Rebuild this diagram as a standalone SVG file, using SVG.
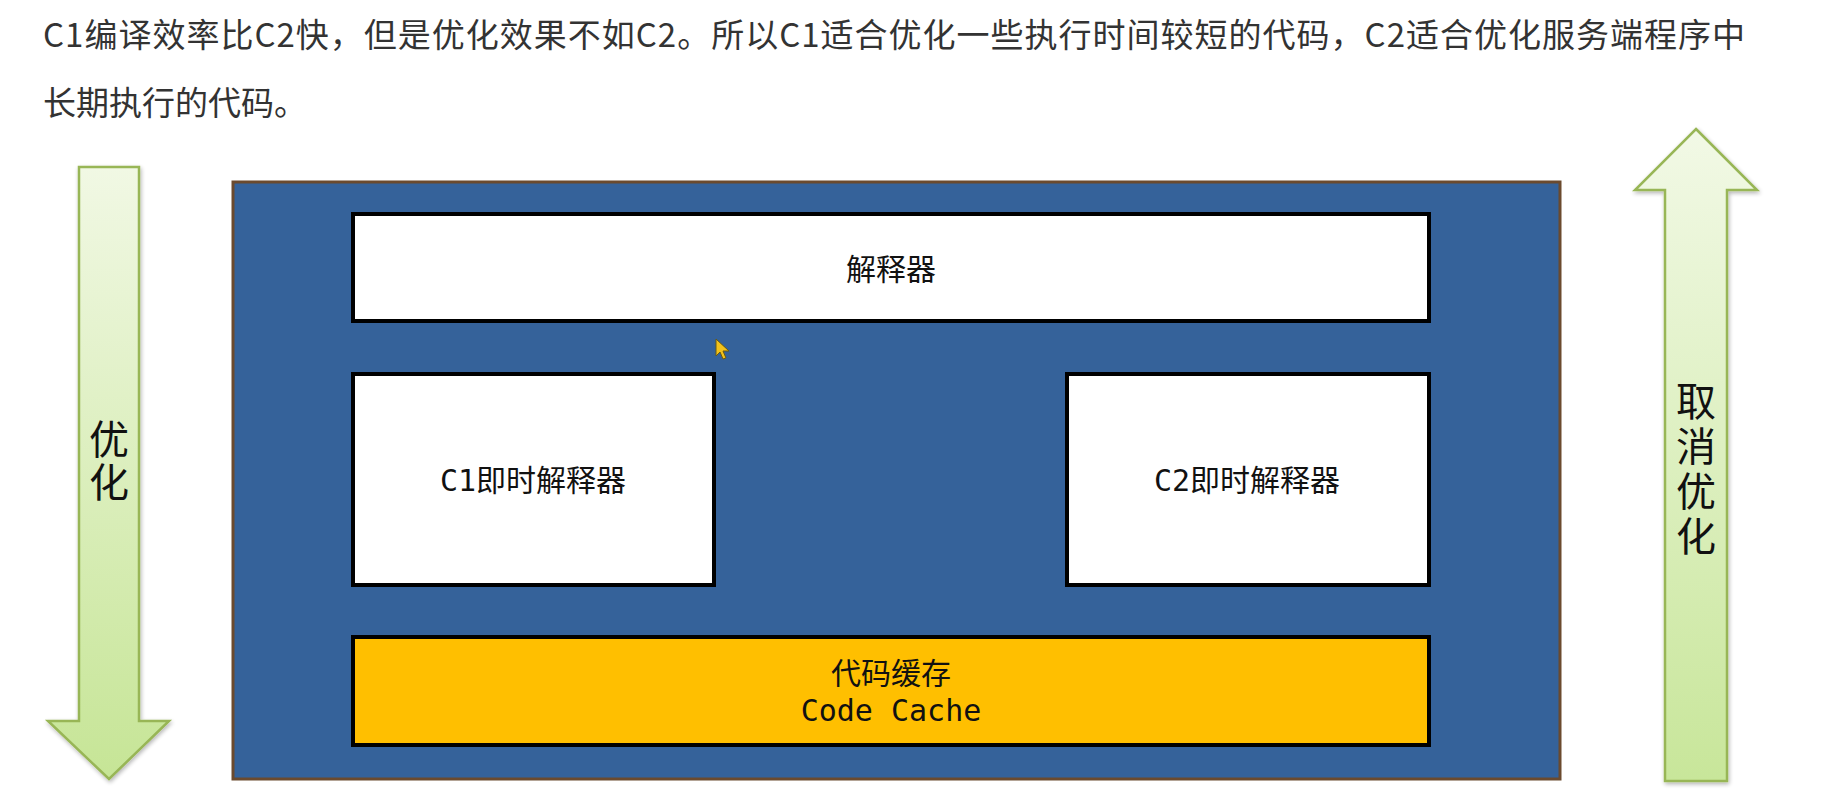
<svg xmlns="http://www.w3.org/2000/svg" width="1836" height="792" viewBox="0 0 1836 792">
<defs>
<linearGradient id="gDown" x1="0" y1="0" x2="0" y2="1">
<stop offset="0" stop-color="#f1f8e4"/>
<stop offset="1" stop-color="#c6e596"/>
</linearGradient>
<linearGradient id="gUp" x1="0" y1="0" x2="0" y2="1">
<stop offset="0" stop-color="#f2f9e6"/>
<stop offset="1" stop-color="#c8e69a"/>
</linearGradient>
<filter id="sh" x="-20%" y="-5%" width="140%" height="110%">
<feGaussianBlur in="SourceAlpha" stdDeviation="2"/>
<feOffset dx="1" dy="2"/>
<feComponentTransfer><feFuncA type="linear" slope="0.3"/></feComponentTransfer>
<feMerge><feMergeNode/><feMergeNode in="SourceGraphic"/></feMerge>
</filter>
</defs>
<style>
.hdr{font-family:"Noto Sans CJK SC","Noto Sans",sans-serif;font-size:33px;fill:#333333;}
.box{fill:#ffffff;stroke:#000000;stroke-width:4;}
.lbl{font-family:"DejaVu Sans Mono","Noto Sans CJK SC",monospace;font-size:30px;fill:#111111;text-anchor:middle;}
.arr{stroke:#98b656;stroke-width:2.5;stroke-linejoin:miter;}
.vtxt{font-family:"Noto Sans CJK SC","Noto Sans",sans-serif;font-size:40px;fill:#111111;text-anchor:middle;writing-mode:vertical-rl;}
</style>
<rect width="1836" height="792" fill="#ffffff"/>
<g id="header">
<text class="hdr" x="43" y="47" textLength="1702" lengthAdjust="spacing">C1编译效率比C2快，但是优化效果不如C2。所以C1适合优化一些执行时间较短的代码，C2适合优化服务端程序中</text>
<text class="hdr" x="43" y="115">长期执行的代码。</text>
</g>
<g id="arrow-optimize">
<polygon class="arr" fill="url(#gDown)" filter="url(#sh)" points="79,167 139,167 139,721 169,721 109,779 48,721 79,721"/>
<text class="vtxt" x="109" y="462" style="letter-spacing:3px">优化</text>
</g>
<g id="arrow-deoptimize">
<polygon class="arr" fill="url(#gUp)" filter="url(#sh)" points="1696,129 1757,190 1727,190 1727,781 1665,781 1665,190 1635,190"/>
<text class="vtxt" x="1696" y="471" style="letter-spacing:5px">取消优化</text>
</g>
<g id="jvm-container">
<rect x="233" y="182" width="1327" height="597" fill="#35629a" stroke="#6b4a2e" stroke-width="3"/>
</g>
<g id="interpreter">
<rect class="box" x="353" y="214" width="1076" height="107"/>
<text class="lbl" x="891" y="280">解释器</text>
</g>
<g id="c1-jit">
<rect class="box" x="353" y="374" width="361" height="211"/>
<text class="lbl" x="533" y="491">C1即时解释器</text>
</g>
<g id="c2-jit">
<rect class="box" x="1067" y="374" width="362" height="211"/>
<text class="lbl" x="1247" y="491">C2即时解释器</text>
</g>
<g id="code-cache">
<rect class="box" x="353" y="637" width="1076" height="108" style="fill:#ffbf00"/>
<text class="lbl" x="891" y="684">代码缓存</text>
<text class="lbl" x="891" y="721">Code Cache</text>
</g>
<g id="cursor">
<polygon points="716,339 716,356 720,352 723,359 726,358 723,351 729,351" fill="#f2c21b" stroke="#6b5a10" stroke-width="1"/>
</g>
<g id="connectors"></g>
</svg>
